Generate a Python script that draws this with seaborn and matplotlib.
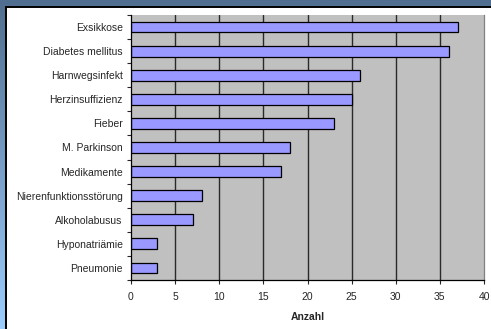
import numpy as np
import pandas as pd
import matplotlib
matplotlib.use("Agg")
import matplotlib.pyplot as plt
from matplotlib.patches import Rectangle
import seaborn as sns

# Data
diagnosen = [
    "Exsikkose",
    "Diabetes mellitus",
    "Harnwegsinfekt",
    "Herzinsuffizienz",
    "Fieber",
    "M. Parkinson",
    "Medikamente",
    "Nierenfunktionsstörung",
    "Alkoholabusus",
    "Hyponatriämie",
    "Pneumonie",
]
anzahl = [37, 36, 26, 25, 23, 18, 17, 8, 7, 3, 3]
x_ticks = [0, 5, 10, 15, 20, 25, 30, 35, 40]

df = pd.DataFrame({"Diagnose": diagnosen, "Anzahl": anzahl})

sns.set_style("white")
plt.rcParams["font.family"] = ["Liberation Sans", "DejaVu Sans"]
plt.rcParams["font.size"] = 7.5

W, H = 491, 329
fig = plt.figure(figsize=(W / 100, H / 100), dpi=100)

# Blue gradient frame behind everything
bg = fig.add_axes([0, 0, 1, 1], zorder=-10)
top_col = np.array([0x50, 0x6E, 0x8F]) / 255
bot_col = np.array([0x9C, 0xCD, 0xFD]) / 255
t = np.linspace(0, 1, 256)[:, None]
grad = top_col[None, :] * (1 - t) + bot_col[None, :] * t
bg.imshow(grad[:, None, :], aspect="auto", extent=[0, 1, 0, 1])
bg.set_axis_off()

# White chart panel with black border
fig.patches.append(
    Rectangle(
        (5.5 / W, -0.01), 1.02, (H - 6.5) / H + 0.01,
        transform=fig.transFigure, facecolor="white",
        edgecolor="black", linewidth=1.4, zorder=-5,
    )
)

ax = fig.add_axes([131 / W, 1 - 280 / H, (484 - 131) / W, (280 - 15) / H])
ax.set_facecolor("#C0C0C0")

sns.barplot(
    data=df, x="Anzahl", y="Diagnose", orient="h", ax=ax,
    color="#9999FF", saturation=1, width=0.45,
    edgecolor="black", linewidth=0.9,
)

ax.set_xlim(0, 40)
ax.set_ylim(10.5, -0.5)
ax.set_xticks(x_ticks)
ax.set_xticklabels([str(v) for v in x_ticks], fontsize=7.5)
ax.set_xlabel("Anzahl", fontsize=7.5, fontweight="bold", labelpad=7)
ax.set_ylabel("")
ax.tick_params(axis="y", which="major", length=0, pad=6, labelsize=7.5)
ax.set_yticks(np.arange(-0.5, 11, 1), minor=True)
ax.tick_params(axis="y", which="minor", length=3, width=0.8, direction="out", left=True)
ax.tick_params(axis="x", which="major", length=3, width=0.8, direction="out", bottom=True, pad=6)

ax.grid(False)
for v in x_ticks[1:-1]:
    ax.axvline(v, color="#2a2a2a", linewidth=1.0, zorder=0.5)
ax.set_axisbelow(True)

for s in ["left", "bottom"]:
    ax.spines[s].set_color("black")
    ax.spines[s].set_linewidth(0.9)
ax.spines["top"].set_visible(False)
ax.spines["right"].set_color("#808080")
ax.spines["right"].set_linewidth(0.9)

fig.savefig("out.png", dpi=100)
